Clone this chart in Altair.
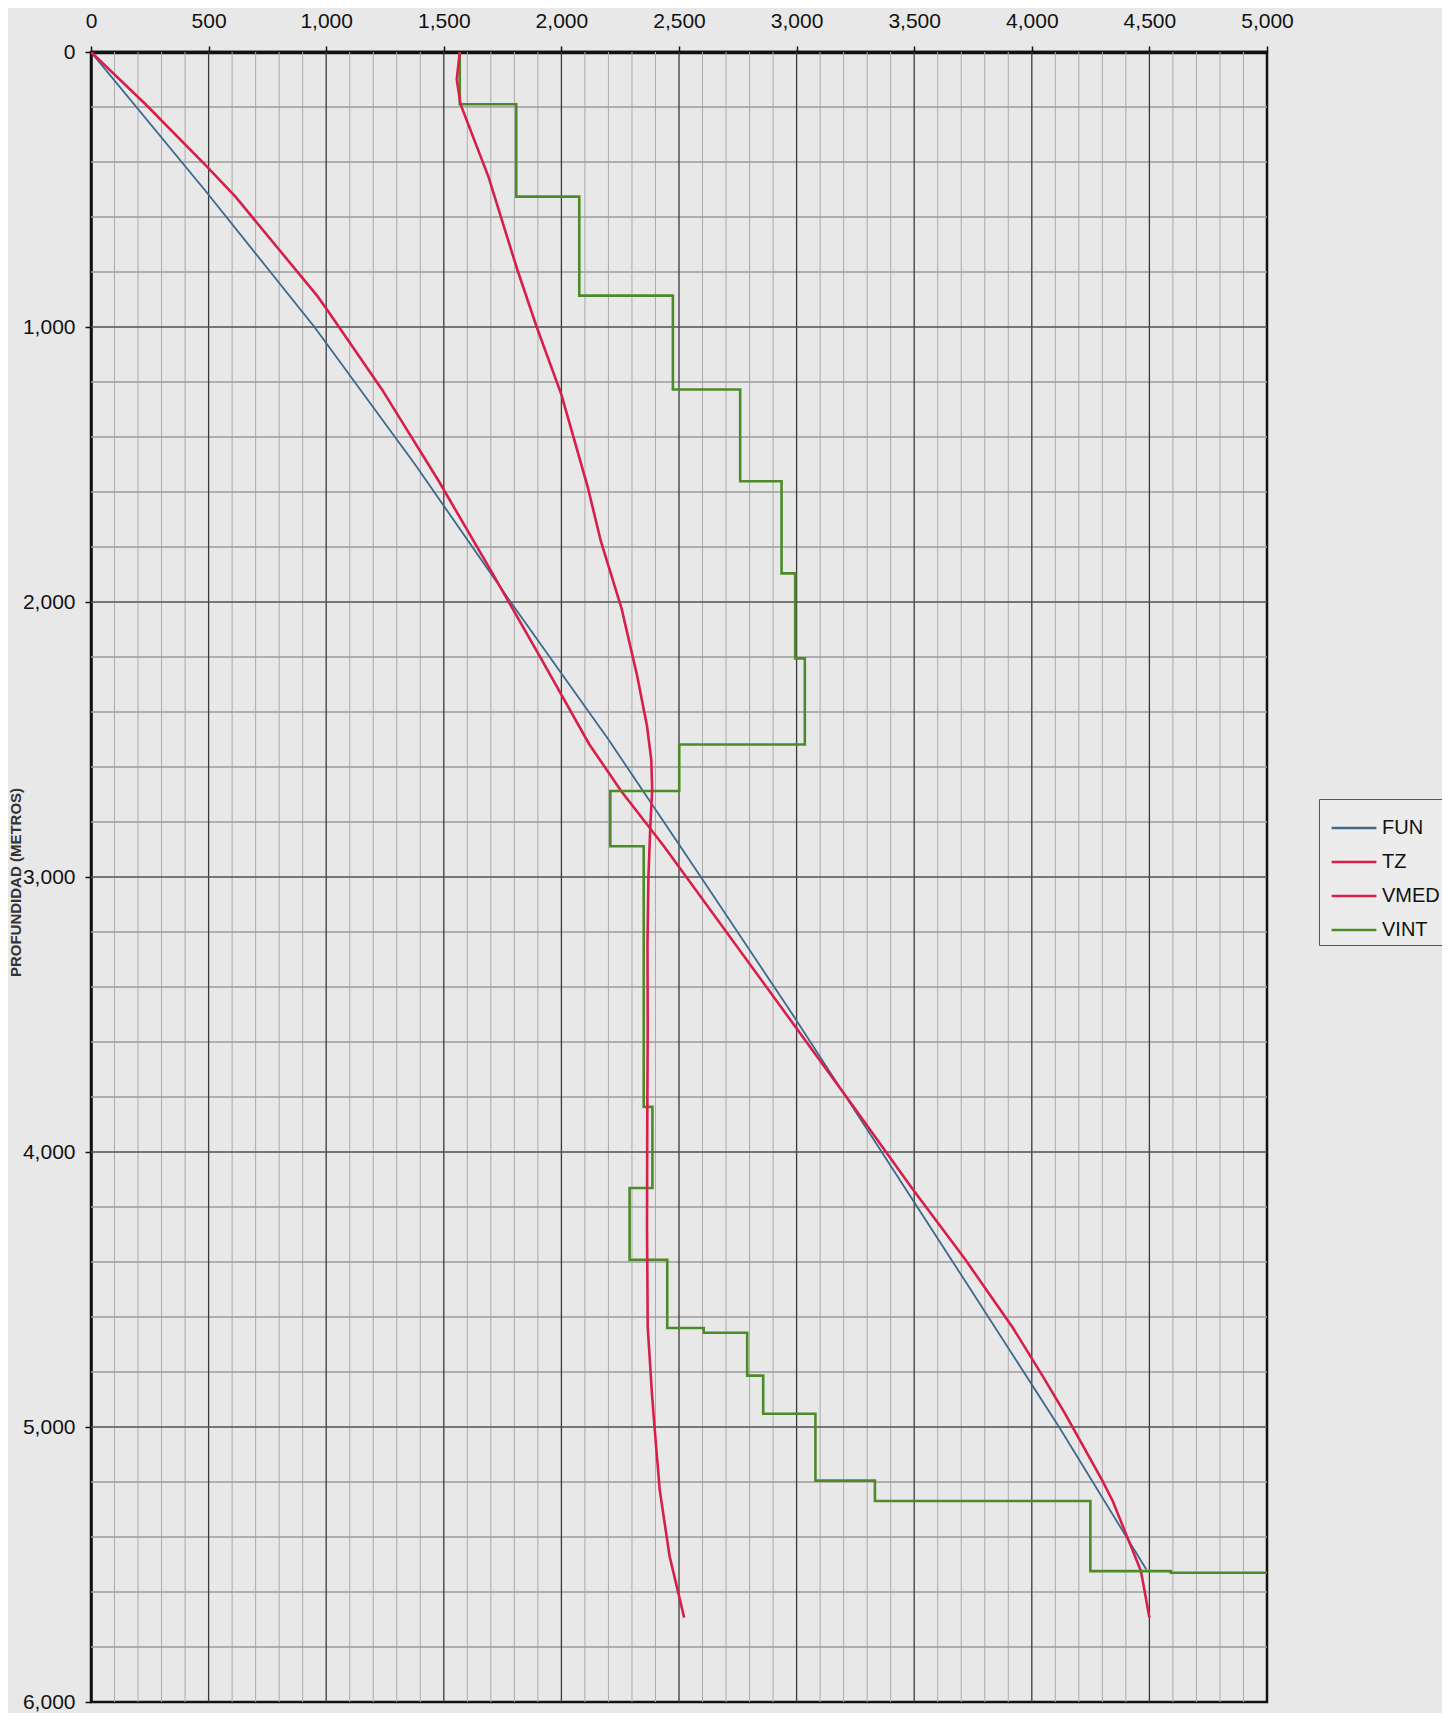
import altair as alt
import pandas as pd

# ---------------- data ----------------
x_ticks = [0, 500, 1000, 1500, 2000, 2500, 3000, 3500, 4000, 4500, 5000]
y_ticks = [0, 1000, 2000, 3000, 4000, 5000, 6000]

series_names = ["FUN", "TZ", "VMED", "VINT"]
series_colors = ["#3d6890", "#d61f4a", "#d61f4a", "#4d8a29"]

# FUN (blue)
fun_depth = [0, 500, 1000, 1500, 2000, 2500, 3000, 3500, 4000, 4500, 5000, 5518]
fun_time = [0, 482, 950, 1378, 1784, 2200, 2593, 2983, 3362, 3740, 4116, 4487]

# TZ (red, time-depth)
tz_depth = [0, 190, 418, 526, 886, 934, 1227, 1561, 1896, 2205, 2518, 2687,
            2888, 3836, 4131, 4392, 4640, 4813, 4952, 5195, 5269, 5524, 5693]
tz_time = [0, 232, 494, 614, 961, 1001, 1237, 1479, 1707, 1913, 2119, 2254,
           2436, 3243, 3490, 3718, 3920, 4045, 4142, 4300, 4344, 4464, 4500]

# VMED (red, mean velocity)
vmed_depth = [0, 100, 190, 454, 790, 1000, 1246, 1582, 1780, 2024, 2268, 2451,
              2573, 2683, 2817, 3000, 3244, 3545, 3909, 4273, 4636, 4879, 5000,
              5229, 5470, 5693]
vmed_vel = [1568, 1555, 1571, 1690, 1812, 1895, 2000, 2112, 2168, 2256, 2322,
            2364, 2382, 2386, 2378, 2370, 2366, 2367, 2365, 2364, 2367, 2385,
            2396, 2418, 2460, 2522]

# VINT (green, interval velocity steps)
vint_vel = [1568, 1808, 2076, 2474, 2760, 2936, 2994, 3035, 2501, 2208, 2350,
            2387, 2290, 2450, 2605, 2790, 2858, 3080, 3333, 4249, 4591, 5000]
vint_top = [0, 190, 526, 886, 1227, 1561, 1896, 2205, 2518, 2687, 2888, 3836,
            4131, 4392, 4640, 4657, 4813, 4952, 5195, 5269, 5524, 5530]
vint_base = [190, 526, 886, 1227, 1561, 1896, 2205, 2518, 2687, 2888, 3836,
             4131, 4392, 4640, 4657, 4813, 4952, 5195, 5269, 5524, 5530, 5530]

# ---------------- tables ----------------
def frame(name, xs, ds):
    return pd.DataFrame({"serie": name, "x": xs, "depth": ds,
                         "order": list(range(len(xs)))})

vint_x, vint_d = [], []
for v, t, b in zip(vint_vel, vint_top, vint_base):
    vint_x += [v, v]
    vint_d += [t, b]

df_fun = frame("FUN", fun_time, fun_depth)
df_tz = frame("TZ", tz_time, tz_depth)
df_vmed = frame("VMED", vmed_vel, vmed_depth)
df_vint = frame("VINT", vint_x, vint_d)

x_minor = [v for v in range(0, 5001, 100) if v % 500 != 0]
x_major = [v for v in x_ticks if 0 < v < 5000]
y_minor = [v for v in range(0, 6001, 200) if v % 1000 != 0]
y_major = [v for v in y_ticks if 0 < v < 6000]

# ---------------- scales / axes ----------------
x_scale = alt.Scale(domain=[0, 5000], nice=False, zero=False)
y_scale = alt.Scale(domain=[0, 6000], reverse=True, nice=False, zero=False)
color_scale = alt.Scale(domain=series_names, range=series_colors)

x_axis = alt.Axis(orient="top", values=x_ticks, format=",d", grid=False,
                  tickSize=6, labelPadding=15, domainWidth=3.5,
                  labelFlush=False, title="")
y_axis = alt.Axis(orient="left", values=y_ticks, format=",d", grid=False,
                  tickSize=6, labelPadding=10, domainWidth=2.5,
                  labelFlush=False, title="PROFUNDIDAD (METROS)",
                  titleX=-68, titleY=830, titleFontSize=15,
                  titleFontWeight="bold", titleColor="#333333",
                  titleAngle=270)

legend = alt.Legend(orient="none", legendX=1228, legendY=747, title=None)


def xenc(field):
    return alt.X(field, type="quantitative", scale=x_scale, axis=x_axis)


def yenc(field):
    return alt.Y(field, type="quantitative", scale=y_scale, axis=y_axis)


grid_x_minor = alt.Chart(pd.DataFrame({"v": x_minor})).mark_rule(
    color="#ababab", strokeWidth=1).encode(x=xenc("v"))
grid_y_minor = alt.Chart(pd.DataFrame({"v": y_minor})).mark_rule(
    color="#9c9c9c", strokeWidth=1.6).encode(y=yenc("v"))
grid_x_major = alt.Chart(pd.DataFrame({"v": x_major})).mark_rule(
    color="#3a3a3a", strokeWidth=1.3).encode(x=xenc("v"))
grid_y_major = alt.Chart(pd.DataFrame({"v": y_major})).mark_rule(
    color="#505050", strokeWidth=1.4).encode(y=yenc("v"))


def line(df, width):
    return alt.Chart(df).mark_line(strokeWidth=width, clip=True).encode(
        x=xenc("x"),
        y=yenc("depth"),
        color=alt.Color("serie:N", scale=color_scale, legend=legend),
        order=alt.Order("order:Q"),
    )


chart = alt.layer(
    grid_x_minor, grid_y_minor, grid_x_major, grid_y_major,
    line(df_fun, 1.8),
    line(df_tz, 2.6),
    line(df_vint, 2.6),
    line(df_vmed, 2.6),
).properties(
    width=1176,
    height=1650,
    autosize=alt.AutoSizeParams(type="none"),
    padding={"left": 83, "top": 44, "right": 175, "bottom": 11},
    background="#e8e8e8",
).configure_view(
    stroke="#111111", strokeWidth=2.5
).configure_axis(
    labelFont="Liberation Sans", labelFontSize=21, labelColor="#111111",
    tickColor="#111111", domainColor="#111111", tickWidth=1.5,
    titleFont="Liberation Sans"
).configure_legend(
    labelFont="Liberation Sans", labelFontSize=20, labelColor="#111111",
    symbolType="stroke", symbolSize=2000, symbolStrokeWidth=2.5,
    symbolOffset=6, strokeColor="#555555", fillColor="#ececec", padding=5,
    rowPadding=0, labelOffset=4
)

chart.save("out.html", embed_options={"renderer": "svg", "actions": False})
